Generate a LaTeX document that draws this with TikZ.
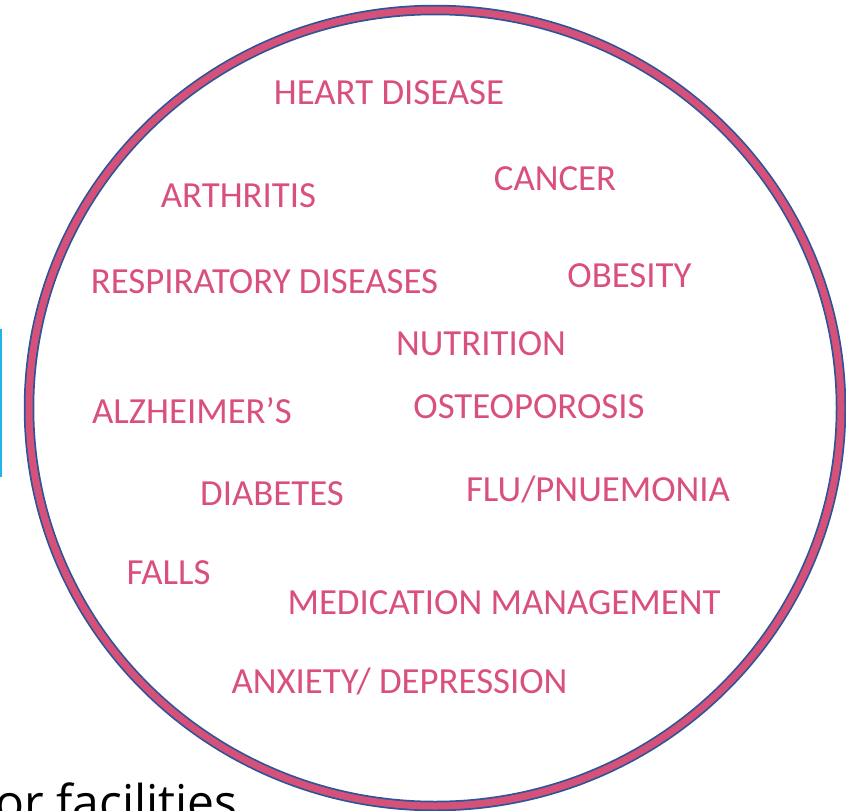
\documentclass[tikz,border=0pt]{standalone}
\usepackage{fontspec}
\setmainfont{Carlito}
\newfontfamily\bodyfont{Open Sans}
\definecolor{ringpink}{HTML}{D6517A}
\definecolor{ringblue}{HTML}{2F5597}
\definecolor{labelpink}{HTML}{D9507D}
\definecolor{barcyan}{HTML}{1FB5E8}
\tikzset{
  lbl/.style={anchor=base, inner sep=0pt, text=labelpink, font=\fontsize{36.8}{36.8}\selectfont},
}
\begin{document}
\begin{tikzpicture}[x=1pt,y=-1pt]
\useasboundingbox (0,0) rectangle (846,811);
% ring
\draw[ringblue, line width=10.5pt] (435,408) ellipse [x radius=406, y radius=398];
\draw[ringpink, line width=7pt] (435,408) ellipse [x radius=406, y radius=398];
% cyan bar at the left edge
\fill[barcyan] (0,329) rectangle (2,477);
% labels
\node[lbl] (heart) at (389,104) {HEART DISEASE};
\node[lbl] (cancer) at (555,190) {CANCER};
\node[lbl] (arth) at (238.5,207) {ARTHRITIS};
\node[lbl] (resp) at (264.5,293) {RESPIRATORY DISEASES};
\node[lbl] (obes) at (629.5,287) {OBESITY};
\node[lbl] (nutr) at (481,355) {NUTRITION};
\node[lbl] (alz) at (192,423) {ALZHEIMER’S};
\node[lbl] (osteo) at (529,418) {OSTEOPOROSIS};
\node[lbl] (diab) at (272,505) {DIABETES};
\node[lbl] (flu) at (598,501) {FLU/PNUEMONIA};
\node[lbl] (falls) at (168.5,584) {FALLS};
\node[lbl] (med) at (504,614) {MEDICATION MANAGEMENT};
\node[lbl] (anx) at (399.5,693) {ANXIETY/ DEPRESSION};
% partial text at the bottom left
\node[anchor=base west, inner sep=0pt, font=\bodyfont\fontsize{48}{48}\selectfont] (fac) at (-5,819) {or facilities};
\end{tikzpicture}
\end{document}
